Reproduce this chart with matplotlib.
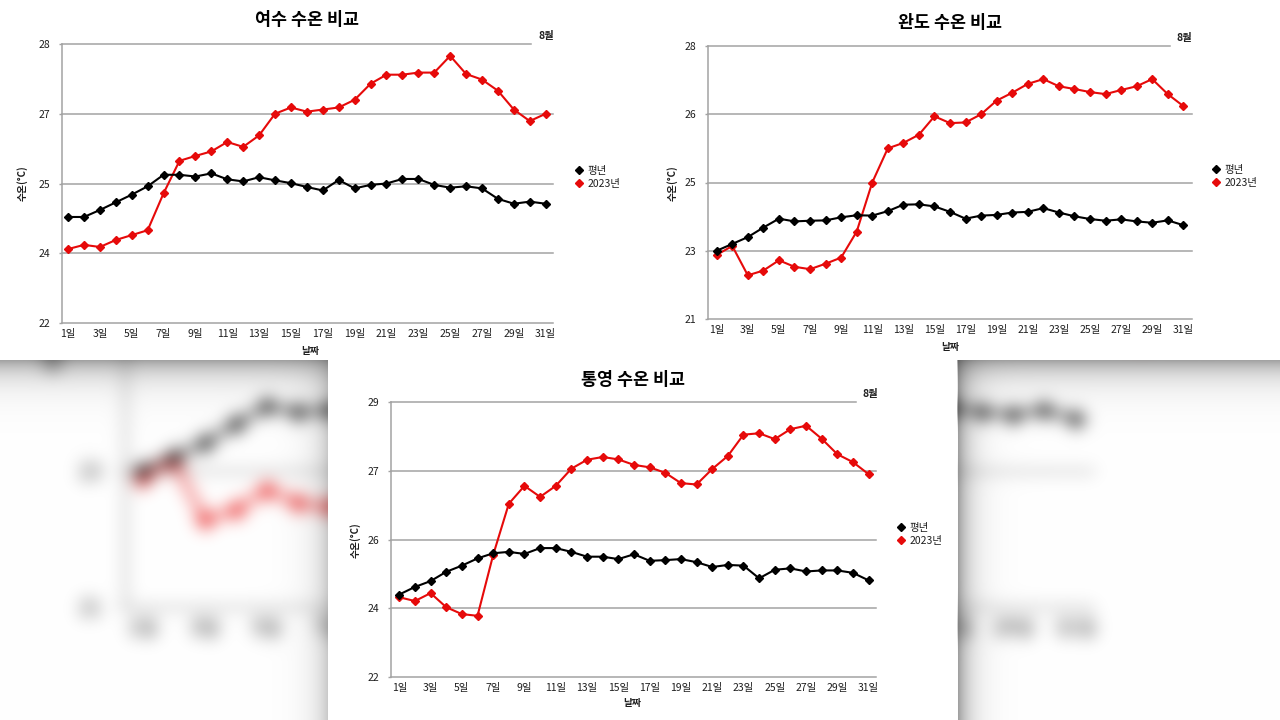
import numpy as np
import matplotlib
matplotlib.use('Agg')
import matplotlib.pyplot as plt
from matplotlib.lines import Line2D

plt.rcParams['font.family'] = ['Noto Sans CJK KR', 'DejaVu Sans']

# ---------------- data ----------------
days = list(range(1, 32))
tick_days = list(range(1, 32, 2))
day_labels = [f'{d}일' for d in tick_days]
legend_labels = ['평년', '2023년']
month_label = '8월'
x_title = '날짜'
y_title = '수온(°C)'

yeosu_title = '여수 수온 비교'
yeosu_ticks = [22, 24, 25, 27, 28]
yeosu_normal = [24.52, 24.52, 24.62, 24.73, 24.84, 24.96, 25.25, 25.25, 25.20, 25.29,
                25.12, 25.06, 25.18, 25.09, 25.01, 24.95, 24.90, 25.10, 24.93, 24.98,
                25.00, 25.13, 25.13, 24.98, 24.94, 24.96, 24.93, 24.78, 24.71, 24.74, 24.71]
yeosu_2023 = [24.06, 24.12, 24.09, 24.19, 24.26, 24.33, 24.86, 25.65, 25.79, 25.92,
              26.19, 26.05, 26.38, 27.00, 27.09, 27.03, 27.06, 27.09, 27.20, 27.43,
              27.56, 27.56, 27.59, 27.59, 27.83, 27.57, 27.49, 27.33, 27.06, 26.79, 27.00]

wando_title = '완도 수온 비교'
wando_ticks = [21, 23, 25, 26, 28]
wando_normal = [23.00, 23.20, 23.40, 23.68, 23.94, 23.86, 23.88, 23.89, 23.98, 24.04,
                24.03, 24.16, 24.35, 24.36, 24.30, 24.14, 23.94, 24.03, 24.05, 24.12,
                24.14, 24.25, 24.12, 24.01, 23.93, 23.88, 23.92, 23.86, 23.82, 23.89, 23.75]
wando_2023 = [22.88, 23.14, 22.28, 22.42, 22.72, 22.53, 22.46, 22.62, 22.80, 23.56,
              25.00, 25.50, 25.58, 25.70, 25.97, 25.87, 25.88, 26.00, 26.40, 26.63,
              26.89, 27.03, 26.82, 26.74, 26.65, 26.59, 26.71, 26.82, 27.03, 26.59, 26.24]

tongyeong_title = '통영 수온 비교'
tongyeong_ticks = [22, 24, 26, 27, 29]
tongyeong_normal = [24.40, 24.62, 24.79, 25.06, 25.24, 25.45, 25.60, 25.64, 25.58, 25.75,
                    25.75, 25.64, 25.50, 25.50, 25.43, 25.57, 25.38, 25.40, 25.43, 25.34,
                    25.20, 25.26, 25.24, 24.87, 25.12, 25.16, 25.07, 25.10, 25.10, 25.03, 24.81]
tongyeong_2023 = [24.32, 24.21, 24.44, 24.03, 23.83, 23.78, 25.55, 26.52, 26.78, 26.62,
                  26.78, 27.06, 27.32, 27.40, 27.33, 27.17, 27.10, 26.97, 26.82, 26.80,
                  27.05, 27.43, 28.05, 28.09, 27.92, 28.21, 28.31, 27.93, 27.48, 27.25, 26.95]

# ---------------- layout (pixel positions) ----------------
W, H = 1280, 720
RED = '#e60a0a'
GRID = '#a3a3a3'
TXT = '#1e1e1e'

layouts = {
    'yeosu': dict(ax=(62, 44, 553, 323), xlim=(0.62, 31.46), topfrac=0.955,
                  title=(307, 20), ylab=(22, 183), xlab=(310, 351),
                  month=(546, 36), legend=(580, 166)),
    'wando': dict(ax=(708, 46, 1192, 319), xlim=(0.44, 31.56), topfrac=0.955,
                  title=(950, 23), ylab=(672, 183), xlab=(950, 347),
                  month=(1184, 38), legend=(1217, 165)),
    'tongyeong': dict(ax=(391, 402, 876, 677), xlim=(0.47, 31.47), topfrac=0.959,
                      title=(633, 380), ylab=(355, 540), xlab=(632, 703),
                      month=(870, 394), legend=(902, 523)),
}


def fx(x):
    return x / W


def fy(y):
    return 1 - y / H


def make_scale(ticks):
    idx = np.arange(len(ticks), dtype=float)
    t = np.asarray(ticks, dtype=float)

    def fwd(v):
        return np.interp(np.asarray(v, dtype=float), t, idx)

    def inv(k):
        return np.interp(np.asarray(k, dtype=float), idx, t)
    return fwd, inv


def draw_chart(fig, lay, title, ticks, normal, y2023):
    l, t, r, b = lay['ax']
    ax = fig.add_axes([fx(l), fy(b), (r - l) / W, (b - t) / H])
    ax.patch.set_alpha(0)
    ax.set_yscale('function', functions=make_scale(ticks))
    ax.set_ylim(ticks[0], ticks[-1])
    ax.set_xlim(*lay['xlim'])
    for tk in ticks:
        ax.axhline(tk, xmin=0, xmax=lay['topfrac'] if tk == ticks[-1] else 1,
                   color=GRID, lw=1.1, zorder=1, clip_on=False)
    for s in ['top', 'right', 'bottom']:
        ax.spines[s].set_visible(False)
    ax.spines['left'].set_color(GRID)
    ax.spines['left'].set_linewidth(1.1)
    ax.set_yticks(ticks)
    ax.set_yticklabels([str(v) for v in ticks])
    ax.set_xticks(tick_days)
    ax.set_xticklabels(day_labels)
    ax.tick_params(axis='y', length=2.5, width=1.0, color=GRID, pad=6,
                   labelsize=7.5, labelcolor=TXT)
    ax.tick_params(axis='x', length=0, pad=4, labelsize=7.5, labelcolor=TXT)
    ax.yaxis.set_minor_locator(matplotlib.ticker.NullLocator())
    ax.plot(days, y2023, color=RED, lw=1.5, marker='D', ms=3.8, zorder=3, clip_on=False)
    ax.plot(days, normal, color='black', lw=1.5, marker='D', ms=3.8, zorder=4, clip_on=False)

    fig.text(fx(lay['title'][0]), fy(lay['title'][1]), title, ha='center', va='center',
             fontsize=12.5, fontweight='bold', color='black')
    fig.text(fx(lay['ylab'][0]), fy(lay['ylab'][1]), y_title, ha='center', va='center',
             rotation=90, fontsize=7, fontweight='bold', color=TXT)
    fig.text(fx(lay['xlab'][0]), fy(lay['xlab'][1]), x_title, ha='center', va='center',
             fontsize=7, fontweight='bold', color=TXT)
    fig.text(fx(lay['month'][0]), fy(lay['month'][1]), month_label, ha='center', va='center',
             fontsize=7.5, fontweight='bold', color=TXT)
    handles = [Line2D([], [], color='black', marker='D', ls='none', ms=4),
               Line2D([], [], color=RED, marker='D', ls='none', ms=4)]
    fig.legend(handles, legend_labels, loc='upper left',
               bbox_to_anchor=(fx(lay['legend'][0] - 6), fy(lay['legend'][1])),
               frameon=False, handlelength=1.0, handletextpad=0.3, labelspacing=0.25,
               borderpad=0, borderaxespad=0, fontsize=7.5, labelcolor=TXT)
    return ax


def gaussian_blur(img, sigma):
    r = int(3 * sigma)
    xk = np.arange(-r, r + 1)
    k = np.exp(-xk ** 2 / (2.0 * sigma ** 2))
    k /= k.sum()
    h0, w0 = img.shape[:2]
    p = np.pad(img, ((r, r), (r, r), (0, 0)), mode='edge')
    hb = np.zeros((h0 + 2 * r, w0, img.shape[2]))
    for i, wgt in enumerate(k):
        hb += wgt * p[:, i:i + w0]
    vb = np.zeros((h0, w0, img.shape[2]))
    for i, wgt in enumerate(k):
        vb += wgt * hb[i:i + h0]
    return vb


# ---------- blurred, magnified background (Wando chart at 2x) ----------
fig2 = plt.figure(figsize=(W / 100, H / 100), dpi=200, facecolor='white')
draw_chart(fig2, layouts['wando'], wando_title, wando_ticks, wando_normal, wando_2023)
fig2.canvas.draw()
big = np.asarray(fig2.canvas.buffer_rgba())[..., :3].astype(float) / 255.0
plt.close(fig2)

m = 40
P = 200
bigp = np.pad(big, ((P, P), (P, P), (0, 0)), mode='constant', constant_values=1.0)
row0, col0 = 391, 1291
crop = bigp[row0 + P - m: row0 + P + 360 + m, col0 + P - m: col0 + P + 1280 + m]
bg = gaussian_blur(crop, 8.5)[m:-m, m:-m]

yy = np.arange(360)[:, None].astype(float)
xx = np.arange(1280)[None, :].astype(float)
shade = 1 - 0.36 * np.exp(-yy / 16.0)
dl = np.clip(328 - xx, 0, None)
dr = np.clip(xx - 957, 0, None)
side = np.where(xx < 328, 1 - 0.22 * np.exp(-dl / 14.0),
                np.where(xx > 957, 1 - 0.40 * np.exp(-dr / 13.0), 1.0))
bg = bg * (shade * side)[..., None]
bg[:, 328:957] = 1.0
bg = np.clip(bg, 0, 1)

# ---------------- main figure ----------------
fig = plt.figure(figsize=(W / 100, H / 100), dpi=100, facecolor='white')
ax_bg = fig.add_axes([0, 0, 1, 0.5])
ax_bg.imshow(bg, aspect='auto', interpolation='bilinear', extent=(0, 1280, 360, 0))
ax_bg.set_axis_off()

draw_chart(fig, layouts['yeosu'], yeosu_title, yeosu_ticks, yeosu_normal, yeosu_2023)
draw_chart(fig, layouts['wando'], wando_title, wando_ticks, wando_normal, wando_2023)
draw_chart(fig, layouts['tongyeong'], tongyeong_title, tongyeong_ticks,
           tongyeong_normal, tongyeong_2023)

fig.savefig('out.png', dpi=100, facecolor='white')
